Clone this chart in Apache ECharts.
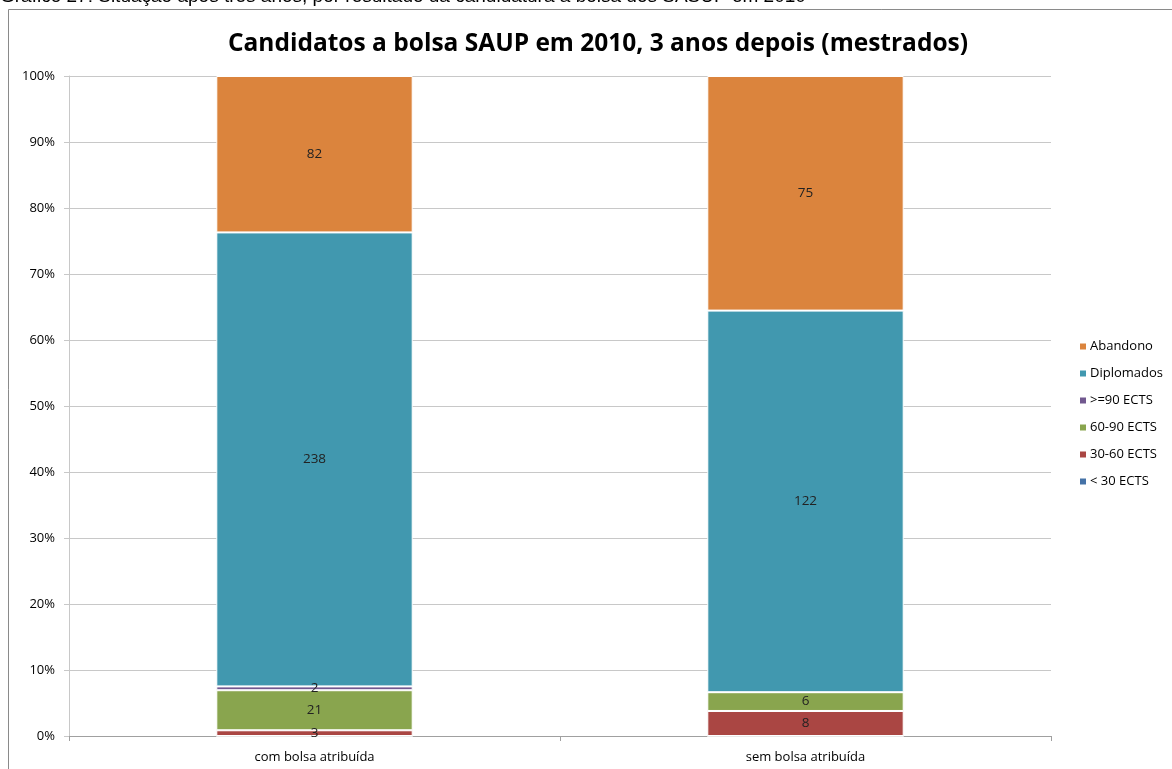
<!DOCTYPE html>
<html>
<head>
<meta charset="utf-8">
<script src="https://cdn.jsdelivr.net/npm/echarts@6/dist/echarts.min.js"></script>
<style>
  html, body { margin: 0; padding: 0; background: #fff; }
  #chart { width: 1172px; height: 769px; }
</style>
</head>
<body>
<div id="chart"></div>
<script>
// categorias
const categorias = ['com bolsa atribuída', 'sem bolsa atribuída']

// séries (contagens)
const menos30 = [0, 0]
const ects30a60 = [3, 8]
const ects60a90 = [21, 6]
const mais90 = [2, 0]
const diplomados = [238, 122]
const abandono = [82, 75]

const nomes = ['< 30 ECTS', '30-60 ECTS', '60-90 ECTS', '>=90 ECTS', 'Diplomados', 'Abandono']
const cores = ['#4572A7', '#AA4643', '#89A54E', '#71588F', '#4198AF', '#DB843D']
const valores = [menos30, ects30a60, ects60a90, mais90, diplomados, abandono]

const yTicks = [0, 10, 20, 30, 40, 50, 60, 70, 80, 90, 100]

// totais por categoria para o empilhado a 100%
const totais = categorias.map((_, i) => valores.reduce((s, v) => s + v[i], 0))

const fonte = "'Open Sans', 'Noto Sans', sans-serif"

const chart = echarts.init(document.getElementById('chart'), null, { renderer: 'canvas' })

const series = nomes.map((nome, k) => ({
  name: nome,
  type: 'bar',
  stack: 'total',
  barWidth: '40%',
  data: valores[k].map((v, i) => ({ value: v / totais[i] * 100, raw: v })),
  itemStyle: { color: cores[k], borderColor: '#fff', borderWidth: 1 },
  label: {
    show: true,
    position: 'inside',
    color: '#222',
    fontFamily: fonte,
    fontSize: 13.5,
    formatter: (p) => (p.data.raw ? String(p.data.raw) : '')
  }
}))

chart.setOption({
  animation: false,
  backgroundColor: '#fff',
  title: {
    text: 'Candidatos a bolsa SAUP em 2010, 3 anos depois (mestrados)',
    left: 593,
    textAlign: 'center',
    top: 27,
    textStyle: { fontFamily: fonte, fontWeight: 'bold', fontSize: 24.5, color: '#000' }
  },
  legend: {
    orient: 'vertical',
    left: 1073,
    top: 335,
    itemWidth: 8,
    itemHeight: 8,
    itemGap: 14,
    icon: 'rect',
    data: nomes.slice().reverse(),
    textStyle: { fontFamily: fonte, fontSize: 13, color: '#000', padding: [0, 0, 0, -2] }
  },
  grid: { left: 69, top: 76, width: 982, bottom: 33, containLabel: false },
  xAxis: {
    type: 'category',
    data: categorias,
    axisLine: { lineStyle: { color: '#A0A0A0' } },
    axisTick: { show: true, length: 5, lineStyle: { color: '#A0A0A0' } },
    axisLabel: { fontFamily: fonte, fontSize: 13, color: '#000', margin: 15 }
  },
  yAxis: {
    type: 'value',
    min: 0,
    max: 100,
    interval: 10,
    axisLine: { show: true, lineStyle: { color: '#C8C8C8' } },
    axisTick: { show: true, length: 5, lineStyle: { color: '#C8C8C8' } },
    splitLine: { lineStyle: { color: '#C8C8C8' } },
    axisLabel: {
      fontFamily: fonte,
      fontSize: 13,
      color: '#000',
      margin: 14,
      formatter: (v) => (yTicks.includes(v) ? v + '%' : '')
    }
  },
  graphic: [
    {
      type: 'rect',
      shape: { x: 8.5, y: 9.5, width: 1200, height: 800 },
      style: { fill: 'none', stroke: '#8A8A8A', lineWidth: 1 },
      silent: true
    },
    {
      type: 'text',
      left: 0,
      top: -13,
      style: {
        text: 'Gráfico 27: Situação após três anos, por resultado da candidatura à bolsa dos SASUP em 2010',
        font: "19px 'Liberation Sans', Arial, sans-serif",
        fill: '#000'
      },
      silent: true
    }
  ],
  series: series
})
</script>
</body>
</html>
